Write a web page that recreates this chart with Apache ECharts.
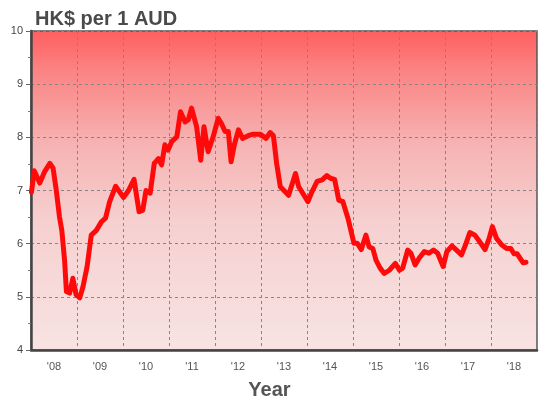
<!DOCTYPE html>
<html>
<head>
<meta charset="utf-8">
<script src="https://cdn.jsdelivr.net/npm/echarts@6/dist/echarts.min.js"></script>
<style>
  html, body { margin: 0; padding: 0; background: #ffffff; }
  #chart { width: 539px; height: 401px; }
</style>
</head>
<body>
<div id="chart"></div>
<script>
// Hong Kong dollars per Australian dollar, 2008 to 2018 (decimal year, rate)
const years = [
  2008.01, 2008.07, 2008.19, 2008.30, 2008.41, 2008.48, 2008.55, 2008.62, 2008.67, 2008.73,
  2008.77, 2008.84, 2008.91, 2008.98, 2009.06, 2009.13, 2009.22, 2009.31, 2009.42, 2009.53,
  2009.62, 2009.71, 2009.84, 2010.01, 2010.12, 2010.24, 2010.35, 2010.43, 2010.50, 2010.59,
  2010.68, 2010.77, 2010.84, 2010.91, 2010.98, 2011.06, 2011.17, 2011.25, 2011.35, 2011.42,
  2011.49, 2011.60, 2011.69, 2011.76, 2011.85, 2011.96, 2012.07, 2012.14, 2012.22, 2012.29,
  2012.35, 2012.42, 2012.51, 2012.60, 2012.72, 2012.83, 2012.98, 2013.11, 2013.20, 2013.27,
  2013.34, 2013.42, 2013.60, 2013.75, 2013.82, 2014.02, 2014.11, 2014.22, 2014.33, 2014.43,
  2014.51, 2014.60, 2014.69, 2014.78, 2014.89, 2015.02, 2015.09, 2015.18, 2015.28, 2015.35,
  2015.43, 2015.50, 2015.59, 2015.68, 2015.79, 2015.92, 2016.01, 2016.08, 2016.19, 2016.26,
  2016.35, 2016.44, 2016.55, 2016.65, 2016.75, 2016.84, 2016.96, 2017.04, 2017.15, 2017.25,
  2017.36, 2017.46, 2017.54, 2017.65, 2017.75, 2017.87, 2017.96, 2018.03, 2018.12, 2018.23,
  2018.34, 2018.43, 2018.50, 2018.57, 2018.63, 2018.70, 2018.76
];
const rates = [
  6.97, 7.37, 7.14, 7.36, 7.51, 7.42, 7.00, 6.50, 6.25, 5.69,
  5.10, 5.07, 5.35, 5.04, 4.98, 5.19, 5.57, 6.16, 6.25, 6.41,
  6.48, 6.79, 7.08, 6.87, 7.00, 7.21, 6.60, 6.63, 7.00, 6.95,
  7.51, 7.60, 7.48, 7.86, 7.76, 7.92, 8.01, 8.48, 8.29, 8.33,
  8.55, 8.20, 7.57, 8.20, 7.73, 8.01, 8.36, 8.26, 8.11, 8.11,
  7.54, 7.86, 8.14, 7.98, 8.03, 8.06, 8.06, 7.98, 8.09, 8.03,
  7.51, 7.07, 6.91, 7.32, 7.07, 6.79, 6.98, 7.17, 7.20, 7.28,
  7.23, 7.21, 6.82, 6.79, 6.48, 6.01, 6.01, 5.89, 6.16, 5.94,
  5.91, 5.69, 5.54, 5.44, 5.50, 5.63, 5.50, 5.54, 5.88, 5.82,
  5.60, 5.73, 5.85, 5.82, 5.88, 5.82, 5.57, 5.85, 5.96, 5.88,
  5.79, 6.01, 6.21, 6.16, 6.04, 5.89, 6.10, 6.32, 6.10, 5.98,
  5.91, 5.91, 5.81, 5.81, 5.73, 5.64, 5.65
];
const yearLabels = ["'08", "'09", "'10", "'11", "'12", "'13", "'14", "'15", "'16", "'17", "'18"];
const yMin = 4, yMax = 10;
const xMin = 2008, xMax = 2019;

const chart = echarts.init(document.getElementById('chart'), null, { renderer: 'canvas' });
const font = '"Liberation Sans", Arial, sans-serif';

chart.setOption({
  animation: false,
  backgroundColor: '#ffffff',
  title: {
    text: 'HK$ per 1 AUD',
    left: 30,
    top: 4,
    textStyle: { fontFamily: font, fontSize: 20, fontWeight: 'bold', color: '#4a4a4a' }
  },
  grid: {
    left: 31, right: 2, top: 31, bottom: 51,
    show: true,
    borderColor: '#555555',
    borderWidth: 1.5,
    backgroundColor: new echarts.graphic.LinearGradient(0, 0, 0, 1, [
      { offset: 0, color: '#ff5e5e' },
      { offset: 0.12, color: '#fb8282' },
      { offset: 0.35, color: '#f6b2b2' },
      { offset: 0.6, color: '#f6d0d0' },
      { offset: 1, color: '#f8e3e3' }
    ])
  },
  xAxis: [
    {
      type: 'value',
      min: xMin, max: xMax, interval: 1,
      position: 'bottom',
      axisLine: { show: true, lineStyle: { color: '#444444', width: 2.5 } },
      axisTick: { show: false },
      axisLabel: { show: false },
      splitLine: { show: true, lineStyle: { color: '#858585', width: 1, type: [3, 3] } }
    },
    {
      type: 'category',
      data: yearLabels,
      position: 'bottom',
      boundaryGap: true,
      axisLine: { show: false },
      axisTick: { show: false },
      splitLine: { show: false },
      axisLabel: { fontFamily: font, fontSize: 11, color: '#555555', margin: 11 }
    }
  ],
  yAxis: {
    type: 'value',
    min: yMin, max: yMax, interval: 1,
    axisLine: { show: true, lineStyle: { color: '#444444', width: 2.5 } },
    axisTick: { show: true, length: 5, lineStyle: { color: '#666666' } },
    minorTick: { show: true, splitNumber: 2, length: 3, lineStyle: { color: '#777777' } },
    axisLabel: { fontFamily: font, fontSize: 11, color: '#444444', margin: 8 },
    splitLine: { show: true, lineStyle: { color: '#858585', width: 1, type: [3, 3] } }
  },
  graphic: [{
    type: 'text',
    left: 'center',
    top: 380,
    style: { text: 'Year', fontFamily: font, fontSize: 20, fontWeight: 'bold', fill: '#555555' }
  }],
  series: [{
    type: 'line',
    xAxisIndex: 0,
    data: years.map((y, i) => [y, rates[i]]),
    showSymbol: false,
    lineStyle: { color: '#ff0a0a', width: 5, join: 'round', cap: 'round' },
    z: 5
  }]
});
</script>
</body>
</html>
